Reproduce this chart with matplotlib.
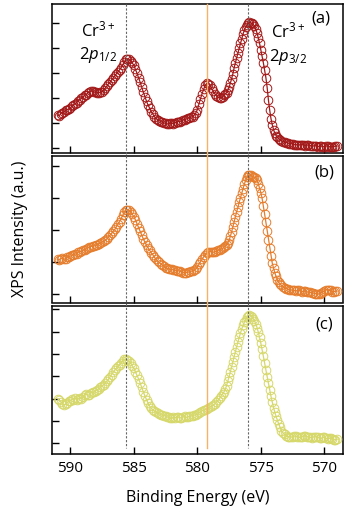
import numpy as np
import matplotlib
matplotlib.use("Agg")
import matplotlib.pyplot as plt
from matplotlib.lines import Line2D
from matplotlib.transforms import blended_transform_factory

plt.rcParams['font.family'] = ['Open Sans', 'DejaVu Sans']
plt.rcParams['mathtext.fontset'] = 'custom'
plt.rcParams['mathtext.rm'] = 'Open Sans'
plt.rcParams['mathtext.it'] = 'Open Sans:italic'

# ---------------- data ----------------
energy_hi = [591.0, 590.875, 590.75, 590.625, 590.5, 590.375, 590.25, 590.125,
             590.0, 589.875, 589.75, 589.625, 589.5, 589.375, 589.25, 589.125,
             589.0, 588.875, 588.75, 588.625, 588.5, 588.375, 588.25, 588.125,
             588.0, 587.875, 587.75, 587.625, 587.5, 587.375, 587.25, 587.125,
             587.0, 586.875, 586.75, 586.625, 586.5, 586.375, 586.25, 586.125,
             586.0, 585.875, 585.75, 585.625, 585.5, 585.375, 585.25, 585.125,
             585.0, 584.875, 584.75, 584.625, 584.5, 584.375, 584.25, 584.125,
             584.0, 583.875, 583.75, 583.625, 583.5, 583.375, 583.25, 583.125,
             583.0, 582.875, 582.75, 582.625, 582.5, 582.375, 582.25, 582.125,
             582.0, 581.875, 581.75, 581.625, 581.5, 581.375, 581.25, 581.125,
             581.0, 580.875, 580.75, 580.625, 580.5, 580.375, 580.25, 580.125,
             580.0, 579.875, 579.75, 579.625, 579.5, 579.375, 579.25, 579.125,
             579.0, 578.875, 578.75, 578.625, 578.5, 578.375, 578.25, 578.125,
             578.0]
energy_mid = [577.9, 577.8, 577.7, 577.6, 577.5, 577.4, 577.3, 577.2, 577.1, 577.0,
              576.9, 576.8, 576.7, 576.6, 576.5, 576.4, 576.3, 576.2, 576.1, 576.0,
              575.9, 575.8, 575.7, 575.6, 575.5, 575.4, 575.3, 575.2, 575.1, 575.0,
              574.9, 574.8, 574.7, 574.6, 574.5, 574.4, 574.3, 574.2, 574.1, 574.0,
              573.9, 573.8, 573.7, 573.6, 573.5]
energy_lo = [573.375, 573.25, 573.125, 573.0, 572.875, 572.75, 572.625, 572.5,
             572.375, 572.25, 572.125, 572.0, 571.875, 571.75, 571.625, 571.5,
             571.375, 571.25, 571.125, 571.0, 570.875, 570.75, 570.625, 570.5,
             570.375, 570.25, 570.125, 570.0, 569.875, 569.75, 569.625, 569.5,
             569.375, 569.25, 569.125, 569.0]
energy = energy_hi + energy_mid + energy_lo

intensity_a = [1.30, 1.28, 1.36, 1.40, 1.42, 1.50, 1.52, 1.54, 1.58, 1.66,
               1.70, 1.76, 1.80, 1.88, 1.92, 1.98, 2.02, 2.10, 2.12, 2.20,
               2.22, 2.26, 2.26, 2.22, 2.24, 2.20, 2.20, 2.22, 2.24, 2.30,
               2.38, 2.46, 2.56, 2.62, 2.72, 2.78, 2.88, 2.96, 3.04, 3.12,
               3.20, 3.30, 3.42, 3.54, 3.56, 3.54, 3.48, 3.40, 3.30, 3.14,
               2.98, 2.80, 2.62, 2.42, 2.22, 2.04, 1.86, 1.70, 1.58, 1.44,
               1.34, 1.24, 1.16, 1.12, 1.08, 1.04, 1.02, 0.98, 0.98, 0.94,
               0.96, 0.98, 0.98, 0.96, 1.00, 1.02, 1.04, 1.04, 1.08, 1.10,
               1.12, 1.14, 1.18, 1.18, 1.22, 1.24, 1.30, 1.38, 1.52, 1.74,
               1.96, 2.16, 2.34, 2.50, 2.58, 2.56, 2.50, 2.38, 2.26, 2.16,
               2.08, 2.02, 2.00, 2.00, 2.04,
               2.10, 2.15, 2.20, 2.30, 2.42, 2.58, 2.76, 2.96, 3.20, 3.40,
               3.60, 3.80, 3.98, 4.18, 4.36, 4.56, 4.70, 4.84, 4.92, 4.98,
               5.02, 5.00, 4.98, 4.94, 4.88, 4.74, 4.60, 4.40, 4.18, 3.92,
               3.66, 3.40, 3.10, 2.80, 2.40, 1.90, 1.50, 1.16, 0.92, 0.72,
               0.58, 0.48, 0.42, 0.36, 0.32,
               0.28, 0.24, 0.22, 0.20, 0.18, 0.16, 0.16, 0.14, 0.12, 0.12,
               0.10, 0.10, 0.12, 0.12, 0.10, 0.08, 0.10, 0.10, 0.08, 0.06,
               0.06, 0.08, 0.06, 0.04, 0.06, 0.06, 0.04, 0.04, 0.06, 0.06,
               0.04, 0.02, 0.04, 0.04, 0.06, 0.06]

intensity_b = [1.08, 1.06, 1.10, 1.12, 1.08, 1.10, 1.14, 1.16, 1.18, 1.20,
               1.22, 1.24, 1.26, 1.30, 1.32, 1.34, 1.36, 1.38, 1.40, 1.44,
               1.46, 1.48, 1.50, 1.50, 1.52, 1.54, 1.56, 1.60, 1.62, 1.64,
               1.68, 1.72, 1.78, 1.84, 1.90, 1.96, 2.02, 2.10, 2.18, 2.26,
               2.36, 2.46, 2.56, 2.64, 2.64, 2.62, 2.58, 2.50, 2.42, 2.32,
               2.20, 2.08, 1.96, 1.84, 1.72, 1.62, 1.52, 1.44, 1.36, 1.28,
               1.22, 1.14, 1.08, 1.02, 0.98, 0.94, 0.90, 0.86, 0.82, 0.80,
               0.78, 0.76, 0.76, 0.74, 0.74, 0.72, 0.72, 0.70, 0.68, 0.66,
               0.66, 0.66, 0.68, 0.68, 0.70, 0.72, 0.74, 0.78, 0.84, 0.92,
               1.00, 1.08, 1.16, 1.22, 1.28, 1.30, 1.32, 1.32, 1.30, 1.32,
               1.34, 1.36, 1.38, 1.40, 1.42,
               1.46, 1.50, 1.54, 1.60, 1.68, 1.80, 1.94, 2.10, 2.26, 2.42,
               2.58, 2.72, 2.88, 3.02, 3.16, 3.30, 3.44, 3.56, 3.66, 3.72,
               3.74, 3.72, 3.70, 3.68, 3.66, 3.64, 3.58, 3.46, 3.32, 3.18,
               3.00, 2.76, 2.50, 2.24, 1.98, 1.70, 1.44, 1.18, 0.96, 0.80,
               0.66, 0.54, 0.44, 0.36, 0.30,
               0.26, 0.22, 0.18, 0.16, 0.14, 0.12, 0.12, 0.10, 0.10, 0.08,
               0.10, 0.10, 0.08, 0.06, 0.08, 0.08, 0.06, 0.04, 0.04, 0.02,
               0.02, 0.00, 0.00, -0.02, 0.00, 0.02, 0.06, 0.08, 0.12, 0.12,
               0.10, 0.10, 0.06, 0.06, 0.08, 0.08]

intensity_c = [2.00, 1.94, 1.86, 1.78, 1.72, 1.76, 1.82, 1.88, 1.90, 1.98,
               1.96, 2.02, 1.94, 1.98, 2.04, 2.00, 2.08, 2.16, 2.22, 2.14,
               2.18, 2.26, 2.30, 2.28, 2.36, 2.40, 2.44, 2.50, 2.56, 2.62,
               2.70, 2.78, 2.86, 2.98, 3.08, 3.18, 3.28, 3.36, 3.44, 3.52,
               3.60, 3.70, 3.76, 3.78, 3.72, 3.68, 3.60, 3.48, 3.36, 3.20,
               3.04, 2.88, 2.70, 2.50, 2.30, 2.12, 1.96, 1.80, 1.66, 1.56,
               1.50, 1.44, 1.40, 1.36, 1.32, 1.28, 1.26, 1.24, 1.22, 1.18,
               1.16, 1.12, 1.12, 1.16, 1.14, 1.18, 1.18, 1.14, 1.14, 1.18,
               1.20, 1.16, 1.18, 1.22, 1.22, 1.24, 1.26, 1.28, 1.30, 1.36,
               1.42, 1.46, 1.48, 1.50, 1.54, 1.58, 1.62, 1.66, 1.70, 1.76,
               1.84, 1.92, 2.02, 2.12, 2.22,
               2.30, 2.42, 2.58, 2.78, 2.98, 3.20, 3.42, 3.66, 3.88, 4.10,
               4.32, 4.54, 4.74, 4.94, 5.12, 5.28, 5.42, 5.54, 5.64, 5.72,
               5.74, 5.72, 5.66, 5.58, 5.48, 5.36, 5.18, 4.98, 4.74, 4.48,
               4.20, 3.90, 3.58, 3.28, 2.98, 2.68, 2.38, 2.10, 1.84, 1.60,
               1.40, 1.20, 1.04, 0.88, 0.74,
               0.56, 0.46, 0.40, 0.34, 0.30, 0.30, 0.28, 0.28, 0.32, 0.32,
               0.28, 0.26, 0.28, 0.30, 0.34, 0.34, 0.30, 0.28, 0.26, 0.24,
               0.28, 0.30, 0.28, 0.26, 0.24, 0.22, 0.26, 0.28, 0.22, 0.20,
               0.22, 0.24, 0.20, 0.16, 0.16, 0.18]

panel_labels = ['(a)', '(b)', '(c)']
series = [intensity_a, intensity_b, intensity_c]
colors = ['#a31818', '#e57d2c', '#d6d86a']
ylims = [(-0.22, 5.76), (-0.28, 4.33), (-0.48, 6.17)]
yticks = [[0, 1, 2, 3, 4, 5], [0, 1, 2, 3, 4], [0, 1, 2, 3, 4, 5, 6]]
xticks = [590, 585, 580, 575, 570]
peak_lines = [585.6, 576.0]
ref_line = 579.2

# ---------------- figure ----------------
W, H = 353, 513
fig = plt.figure(figsize=(W / 100, H / 100), dpi=100)

def fx(px):
    return px / W

def fy(py):
    return 1 - py / H

left, right = 52, 343
panel_px = [(4, 153), (156, 302.5), (305.5, 454)]
axes = []
for (t, b) in panel_px:
    ax = fig.add_axes([fx(left), fy(b), fx(right) - fx(left), fy(t) - fy(b)])
    axes.append(ax)

label_pos = [(0.923, 0.90), (0.935, 0.888), (0.935, 0.872)]
for i, ax in enumerate(axes):
    ax.plot(energy, series[i], '-', color=colors[i], lw=0.9, zorder=3)
    ax.plot(energy, series[i], 'o', mfc='none', mec=colors[i], ms=6.2, mew=0.7, zorder=3)
    ax.set_xlim(591.44, 568.53)
    ax.set_ylim(*ylims[i])
    ax.set_yticks(yticks[i])
    ax.set_yticklabels([])
    ax.set_xticks(xticks)
    if i < 2:
        ax.set_xticklabels([])
    else:
        ax.set_xticklabels([str(v) for v in xticks], fontsize=11)
    ax.tick_params(axis='both', direction='in', length=5, width=1.0,
                   top=False, right=False, pad=5)
    for s in ax.spines.values():
        s.set_linewidth(1.1)
    ax.text(label_pos[i][0], label_pos[i][1], panel_labels[i], transform=ax.transAxes,
            ha='center', va='center', fontsize=12)

axc = axes[2]
axc.set_xlabel('Binding Energy (eV)', fontsize=11.5, labelpad=10)
fig.text(fx(20), fy(229), 'XPS Intensity (a.u.)', rotation=90, ha='center', va='center',
         fontsize=11.5)

# vertical reference lines spanning all panels
trans = blended_transform_factory(axc.transData, fig.transFigure)
for xv in peak_lines:
    fig.add_artist(Line2D([xv, xv], [fy(4), fy(448)], transform=trans, color='#666666',
                          lw=0.8, linestyle=(0, (2, 1.5)), zorder=5))
fig.add_artist(Line2D([ref_line, ref_line], [fy(4), fy(448)], transform=trans,
                      color='#f5b368', lw=1.0, zorder=5))

axa = axes[0]
axa.text(587.83, 4.68, r'Cr$^{3+}$', ha='center', va='center', fontsize=12)
axa.text(587.83, 3.72, r'2$p_{1/2}$', ha='center', va='center', fontsize=12)
axa.text(572.87, 4.64, r'Cr$^{3+}$', ha='center', va='center', fontsize=12)
axa.text(572.87, 3.64, r'2$p_{3/2}$', ha='center', va='center', fontsize=12)

fig.savefig('out.png', dpi=100)
